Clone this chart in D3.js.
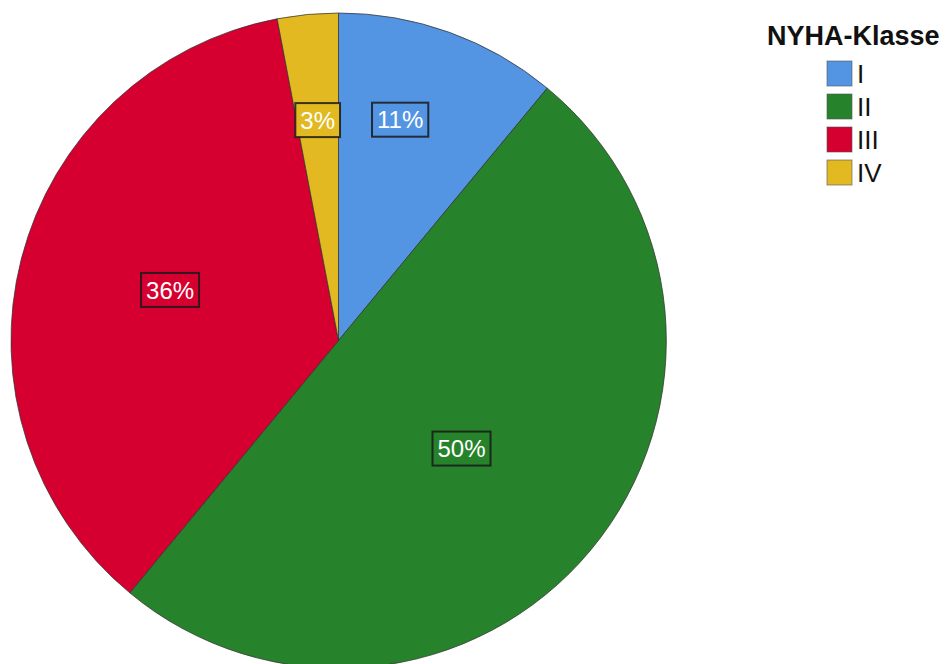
<!DOCTYPE html>
<html>
<head>
<meta charset="utf-8">
<script src="https://cdn.jsdelivr.net/npm/d3@7"></script>
<style>
  html, body { margin: 0; padding: 0; background: #fff; }
  svg { display: block; }
</style>
</head>
<body>
<svg id="chart" width="947" height="664"></svg>
<script>
// NYHA class distribution
const categories = ["I", "II", "III", "IV"];
const percents = [11, 50, 36, 3];
const colors = ["#5394E3", "#27832B", "#D5002F", "#E2B920"];
const legendTitle = "NYHA-Klasse";

// label placement per slice: share of the radius, and a small turn (degrees) off the slice's mid-angle
const labelRadiusShare = [0.70, 0.50, 0.537, 0.676];
const labelAngleShift = [-4.2, 1.7, 2.3, 0];

const data = categories.map((c, i) => ({
  cat: c, value: percents[i], color: colors[i],
  lr: labelRadiusShare[i], la: labelAngleShift[i]
}));

const svg = d3.select("#chart");
const cx = 338.5, cy = 340.5, R = 327.5;

const pie = d3.pie().value(d => d.value).sort(null).startAngle(0).endAngle(2 * Math.PI);
const arcs = pie(data);
const arc = d3.arc().innerRadius(0).outerRadius(R);

const g = svg.append("g").attr("transform", `translate(${cx},${cy})`);

g.selectAll("path.slice")
  .data(arcs)
  .join("path")
  .attr("class", "slice")
  .attr("d", arc)
  .attr("fill", d => d.data.color)
  .attr("stroke", "#333")
  .attr("stroke-opacity", 0.75)
  .attr("stroke-width", 1);

// value labels in outlined boxes
const fmt = d => d.data.value + "%";
const labels = g.selectAll("g.lbl")
  .data(arcs)
  .join("g")
  .attr("class", "lbl")
  .attr("transform", d => {
    const a = (d.startAngle + d.endAngle) / 2 + d.data.la * Math.PI / 180;
    const r = R * d.data.lr;
    return `translate(${r * Math.sin(a)},${-r * Math.cos(a)})`;
  });

labels.each(function(d) {
  const sel = d3.select(this);
  const t = sel.append("text")
    .attr("text-anchor", "middle")
    .attr("dy", "0.36em")
    .attr("font-family", "'Liberation Sans', Arial, Helvetica, sans-serif")
    .attr("font-size", 24)
    .attr("fill", "#fff")
    .text(fmt(d));
  const w = t.node().getComputedTextLength();
  sel.insert("rect", "text")
    .attr("x", -w / 2 - 5)
    .attr("y", -17)
    .attr("width", w + 10)
    .attr("height", 34)
    .attr("fill", d.data.color)
    .attr("stroke", "#1a1a1a")
    .attr("stroke-opacity", 0.85)
    .attr("stroke-width", 2);
});

// legend
const lg = svg.append("g");
lg.append("text")
  .attr("x", 767)
  .attr("y", 45)
  .attr("font-family", "'Liberation Sans', Arial, Helvetica, sans-serif")
  .attr("font-weight", "bold")
  .attr("font-size", 27)
  .attr("fill", "#111")
  .text(legendTitle);

const items = lg.selectAll("g.item")
  .data(data)
  .join("g")
  .attr("class", "item")
  .attr("transform", (d, i) => `translate(827,${61 + i * 33})`);

items.append("rect")
  .attr("width", 25)
  .attr("height", 25)
  .attr("fill", d => d.color)
  .attr("stroke", "#555")
  .attr("stroke-opacity", 0.6)
  .attr("stroke-width", 1);

items.append("text")
  .attr("x", 30)
  .attr("y", 22)
  .attr("font-family", "'Liberation Sans', Arial, Helvetica, sans-serif")
  .attr("font-size", 26)
  .attr("fill", "#111")
  .text(d => d.cat);
</script>
</body>
</html>
